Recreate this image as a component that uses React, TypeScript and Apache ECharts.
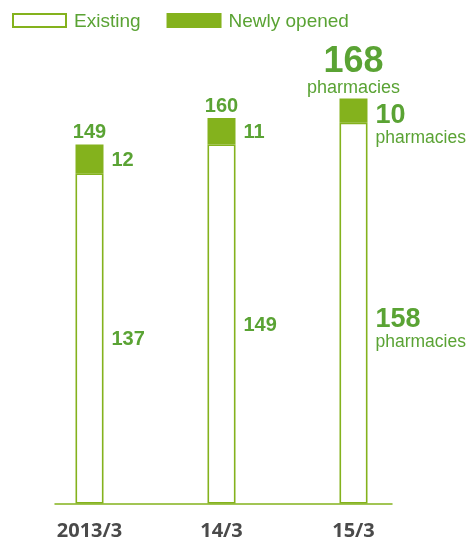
import React, { useEffect, useRef } from 'react';
import * as echarts from 'echarts';

const categories = ['2013/3', '14/3', '15/3'];
const existing = [137, 149, 158];
const newlyOpened = [12, 11, 10];
const totals = [149, 160, 168];
const unitLabel = 'pharmacies';
const seriesNames = ['Existing', 'Newly opened'];

const BAR = '#84b21d';
const TEXT = '#5aa334';
const AXIS_TEXT = '#4a4a4a';
const FONT = '"Liberation Sans", Arial, sans-serif';

export default function App() {
  const ref = useRef<HTMLDivElement>(null);
  useEffect(() => {
    const chart = echarts.init(ref.current!, null, { renderer: 'svg' });
    const lastIdx = categories.length - 1;
    const richStyles = {
      s: { fontSize: 20, fontWeight: 'bold', color: TEXT, fontFamily: FONT },
      n: { fontSize: 27, fontWeight: 'bold', color: TEXT, fontFamily: FONT, lineHeight: 26 },
      big: { fontSize: 36, fontWeight: 'bold', color: TEXT, fontFamily: FONT, lineHeight: 36 },
      p: { fontSize: 17.5, color: TEXT, fontFamily: FONT, lineHeight: 20 },
      pt: { fontSize: 18, color: TEXT, fontFamily: FONT, lineHeight: 18 },
    };
    chart.setOption({
      animation: false,
      legend: {
        left: 7,
        top: 6,
        itemWidth: 53,
        itemHeight: 13,
        itemGap: 26,
        selectedMode: false,
        icon: 'rect',
        data: seriesNames,
        textStyle: { color: TEXT, fontSize: 19, fontFamily: FONT, padding: [0, 0, 0, 3] },
      },
      grid: [
        { left: 23.5, right: 56.5, top: 21.5, bottom: 38.5 },
        { left: 55, right: 84, top: 21.5, bottom: 38.5 },
      ],
      xAxis: [
        {
          type: 'category',
          gridIndex: 0,
          data: categories,
          axisTick: { show: false },
          axisLine: { show: false },
          axisLabel: {
            color: AXIS_TEXT,
            fontSize: 20,
            fontWeight: 'bold',
            fontFamily: '"Open Sans", sans-serif',
            margin: 16,
          },
        },
        {
          type: 'value',
          gridIndex: 1,
          min: 0,
          max: 1,
          splitLine: { show: false },
          axisTick: { show: false },
          axisLabel: { show: false },
          axisLine: { show: true, onZero: false, lineStyle: { color: BAR, width: 1.5 } },
        },
      ],
      yAxis: [
        { type: 'value', gridIndex: 0, min: 0, max: 200, show: false },
        { type: 'value', gridIndex: 1, min: 0, max: 200, show: false },
      ],
      series: [
        {
          name: seriesNames[0],
          type: 'bar',
          stack: 'a',
          barWidth: 28,
          itemStyle: { color: '#ffffff', borderColor: BAR, borderWidth: 1.6 },
          data: existing.map((v, i) => ({
            value: v,
            label: i === lastIdx ? { offset: [0, 15] } : {},
          })),
          label: {
            show: true,
            position: 'right',
            distance: 8,
            rich: richStyles,
            formatter: (p: any) =>
              p.dataIndex === lastIdx
                ? `{n|${existing[p.dataIndex]}}\n{p|${unitLabel}}`
                : `{s|${existing[p.dataIndex]}}`,
          },
        },
        {
          name: seriesNames[1],
          type: 'bar',
          stack: 'a',
          barWidth: 28,
          itemStyle: { color: BAR, borderColor: BAR, borderWidth: 1.6 },
          data: newlyOpened.map((v, i) => ({
            value: v,
            label: i === lastIdx ? { offset: [0, 13] } : {},
          })),
          label: {
            show: true,
            position: 'right',
            distance: 8,
            rich: richStyles,
            formatter: (p: any) =>
              p.dataIndex === lastIdx
                ? `{n|${newlyOpened[p.dataIndex]}}\n{p|${unitLabel}}`
                : `{s|${newlyOpened[p.dataIndex]}}`,
          },
        },
        {
          name: 'total',
          type: 'bar',
          stack: 'a',
          barWidth: 28,
          itemStyle: { color: 'transparent' },
          data: totals.map(() => 0),
          label: {
            show: true,
            position: 'top',
            distance: 3,
            align: 'center',
            rich: richStyles,
            formatter: (p: any) =>
              p.dataIndex === lastIdx
                ? `{big|${totals[p.dataIndex]}}\n{pt|${unitLabel}}`
                : `{s|${totals[p.dataIndex]}}`,
          },
        },
      ],
    });
    return () => chart.dispose();
  }, []);
  return <div ref={ref} style={{ position: 'fixed', left: 0, top: 0, width: 476, height: 542 }} />;
}
